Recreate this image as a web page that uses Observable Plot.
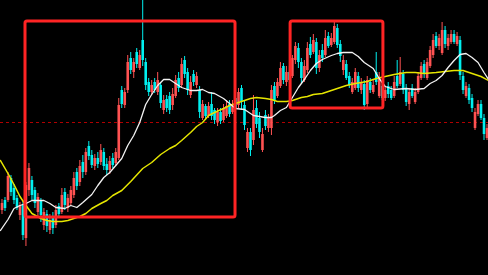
<!DOCTYPE html>
<html>
<head>
<meta charset="utf-8">
<script src="https://cdn.jsdelivr.net/npm/d3@7"></script>
<script src="https://cdn.jsdelivr.net/npm/@observablehq/plot@0.6"></script>
<style>
  html, body { margin: 0; padding: 0; background: #000; }
  #chart svg { display: block; }
</style>
</head>
<body>
<div id="chart"></div>
<script>
// Candles: [open, high, low, close], one per bar
const ohlc = [
  [90,101,86,97],[100,103,89,92],[100,128,98,124],[122,125,104,108],[112,116,96,100],
  [102,105,90,92],[85,98,80,95],[95,100,60,65],[62,118,54,115],[110,137,104,132],
  [120,124,100,105],[110,113,92,97],[88,107,84,103],[100,102,78,85],[75,92,70,88],
  [86,90,68,74],[70,86,66,80],[82,88,66,72],[75,95,72,90],[94,97,82,86],
  [88,112,86,105],[108,112,90,95],[92,106,88,102],[97,114,95,110],[105,128,102,122],
  [128,132,110,114],[118,140,114,134],[138,145,122,128],[128,152,125,148],[154,159,140,144],
  [145,150,132,135],[134,146,130,142],[142,148,132,136],[138,156,135,150],[148,152,130,134],
  [136,142,125,130],[130,144,126,139],[142,147,132,135],[137,152,134,148],[142,202,140,195],
  [210,214,192,196],[195,212,192,208],[210,245,207,238],[242,248,226,230],[228,242,222,238],
  [248,252,232,236],[232,250,230,245],[260,300,234,240],[238,242,210,215],[218,222,204,208],
  [208,220,205,215],[218,222,207,210],[208,228,205,220],[215,218,192,197],[190,205,186,200],
  [201,205,188,192],[204,208,186,190],[195,212,190,206],[204,225,202,220],[222,228,208,212],
  [215,242,212,236],[240,244,222,226],[228,232,205,210],[205,224,202,218],[226,230,214,218],
  [215,228,212,224],[210,214,182,188],[182,200,180,196],[194,196,180,184],[184,198,182,194],
  [196,208,180,184],[190,192,176,180],[178,192,174,188],[188,192,176,179],[180,196,178,192],
  [184,200,182,194],[196,200,183,186],[188,200,186,196],[202,208,188,192],[195,212,192,208],
  [212,215,190,198],[195,200,170,175],[152,172,148,168],[168,172,144,150],[160,205,155,190],
  [192,200,172,176],[182,188,162,168],[150,172,148,166],[185,190,170,174],[172,186,168,182],
  [172,215,165,210],[214,218,196,200],[204,222,202,218],[214,238,212,232],[234,237,216,220],
  [218,234,214,228],[228,234,216,220],[224,245,222,242],[240,258,236,254],[252,257,232,238],
  [238,242,217,222],[220,240,218,234],[230,258,227,252],[256,263,242,245],[248,266,246,260],
  [258,262,226,232],[232,250,228,245],[250,256,238,242],[245,270,243,262],[264,268,252,254],
  [255,267,253,262],[258,278,256,274],[272,276,252,255],[256,260,238,244],[230,245,225,240],
  [236,240,220,222],[224,228,212,215],[208,222,206,218],[212,232,210,228],[224,228,208,212],
  [210,222,206,218],[216,220,190,195],[196,224,192,220],[218,222,207,210],[208,220,206,215],
  [228,248,215,218],[204,228,202,222],[214,218,200,202],[202,214,199,210],[214,218,202,206],
  [210,214,200,202],[204,224,202,218],[224,240,212,214],[216,243,214,228],[226,230,206,210],
  [212,216,194,198],[196,212,190,208],[212,216,202,204],[198,212,196,208],[208,228,206,224],
  [222,238,220,234],[236,240,222,226],[222,242,220,238],[234,254,232,250],[245,266,242,260],
  [264,268,252,254],[254,266,250,262],[247,278,245,270],[270,274,252,256],[254,266,250,262],
  [258,270,256,266],[266,270,256,258],[256,268,254,264],[260,264,220,225],[224,228,206,210],
  [204,218,202,214],[212,216,196,200],[202,206,188,192],[172,192,170,188],[186,200,184,196],
  [196,200,180,182],[182,186,160,166],[162,176,160,172]
];

// Fast moving average (white): [bar index, value]
const maFast = [
  [-0.5,70],[2,81],[4,92],[6,95],[8,97],[10,100],[14,100],[16,97],[18,93],[21,92],[23,95],
  [25,93],[27,98],[30,106],[32,115],[34,123],[36,128],[38,135],[40,142],[42,155],[44,165],
  [46,178],[47,187],[48,196],[50,206],[52,215],[54,221],[56,221],[58,217],[60,213],[63,210],
  [65,210],[67,211],[69,208],[71,207],[74,202],[76,197],[78,192],[81,191],[84,185],[88,183],
  [90,183],[91,185],[93,190],[95,193],[97,203],[99,213],[101,221],[103,230],[105,237],[107,241],
  [110,245],[112,247],[114,248],[117,248],[119,244],[121,238],[124,232],[126,222],[128,214],
  [131,211],[135,212],[138,211],[141,212],[143,217],[145,220],[147,225],[149,233],[151,240],
  [153,246],[155,247],[157,243],[159,238],[161,228],[162.5,221]
];

// Slow moving average (yellow): [bar index, value]
const maSlow = [
  [-0.5,140],[2,127],[4,116],[6,104],[8,95],[10,87],[13,82],[15,80],[17,79],[20,79],[22,80],
  [24,82],[26,84],[28,87],[30,92],[33,97],[35,100],[37,105],[40,110],[43,119],[47,132],
  [50,138],[53,146],[56,152],[58,155],[60,160],[63,168],[65,174],[67,178],[69,185],[71,188],
  [74,192],[76,195],[78,197],[81,200],[83,202],[85,203],[88,202],[90,201],[92,199],[95,199],
  [97,200],[100,203],[102,204],[104,206],[107,207],[109,209],[111,211],[113,213],[115,215],
  [118,217],[120,218],[122,219],[125,222],[128,224],[131,226],[135,228],[138,228],[141,227],
  [145,228],[148,229],[151,230],[154,230],[156,228],[158,226],[160,224],[162.5,220]
];

// Highlight boxes: [fromBar, toBar, lowValue, highValue]
const boxes = [[7.85, 78, 83, 279], [96.4, 127.4, 192, 279]];
// Dashed reference level
const refLevel = [178];

const bars = ohlc.map(([o, h, l, c], i) => ({i, o, h, l, c, up: c >= o}));
const color = d => d.up ? "#ff5252" : "#00f0f0";

const chart = Plot.plot({
  width: 488,
  height: 275,
  marginTop: 0, marginRight: 0, marginBottom: 0, marginLeft: 0,
  style: {background: "#000"},
  x: {domain: [-0.5, 162.5], axis: null},
  y: {domain: [25, 300], axis: null},
  marks: [
    Plot.ruleY(refLevel, {stroke: "#b00000", strokeDasharray: "3,3", strokeWidth: 1}),
    Plot.ruleX(bars, {x: "i", y1: "l", y2: "h", stroke: color, strokeWidth: 1}),
    Plot.ruleX(bars, {x: "i", y1: "o", y2: "c", stroke: color, strokeWidth: 2.6}),
    Plot.line(maSlow, {x: d => d[0], y: d => d[1], stroke: "#e6e600", strokeWidth: 1.5}),
    Plot.line(maFast, {x: d => d[0], y: d => d[1], stroke: "#f2f2f2", strokeWidth: 1.3}),
    Plot.rect(boxes, {x1: d => d[0], x2: d => d[1], y1: d => d[2], y2: d => d[3],
      fill: "none", stroke: "#ff2424", strokeWidth: 3, rx: 2})
  ]
});
document.getElementById("chart").appendChild(chart);
</script>
</body>
</html>
